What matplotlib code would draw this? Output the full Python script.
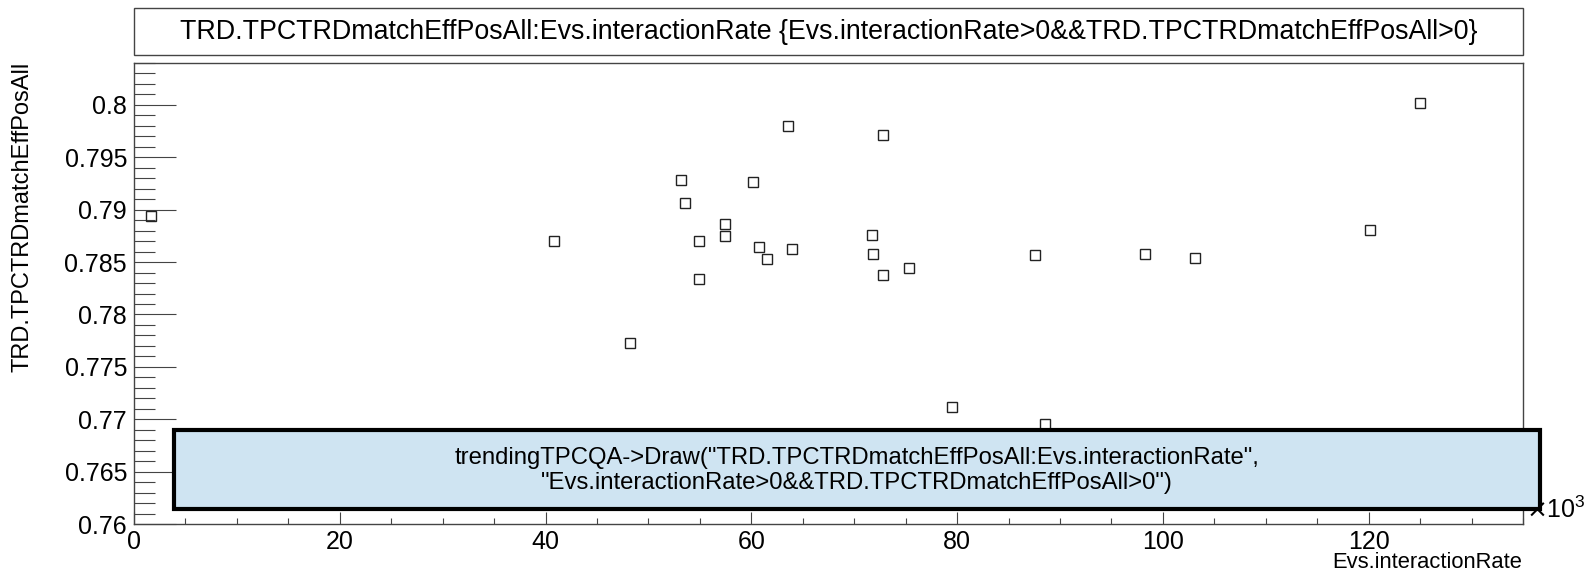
import matplotlib
matplotlib.use('Agg')
import matplotlib.pyplot as plt
from matplotlib.patches import Rectangle
from matplotlib.ticker import MultipleLocator

plt.rcParams['font.family'] = ['Liberation Sans', 'DejaVu Sans']

# interaction rate in units of 10^3
rate = [1.7, 40.85, 48.2, 53.2, 53.6, 54.9, 54.9, 57.4, 57.4, 60.2, 60.7, 61.5, 63.55,
        64.0, 71.75, 71.85, 72.8, 72.8, 75.3, 79.5, 87.55, 88.5, 98.25, 103.1, 120.1, 125.0]
match_eff = [0.78943, 0.78705, 0.77727, 0.79286, 0.79067, 0.78705, 0.78343, 0.78867,
             0.78752, 0.79264, 0.78648, 0.7853, 0.7980, 0.78622, 0.78762, 0.78578,
             0.79717, 0.78378, 0.78448, 0.77121, 0.78565, 0.76952, 0.78574, 0.7854,
             0.7881, 0.8002]

title = "TRD.TPCTRDmatchEffPosAll:Evs.interactionRate {Evs.interactionRate>0&&TRD.TPCTRDmatchEffPosAll>0}"
cmd_lines = ['trendingTPCQA->Draw("TRD.TPCTRDmatchEffPosAll:Evs.interactionRate",',
             '"Evs.interactionRate>0&&TRD.TPCTRDmatchEffPosAll>0")']

W, H = 1585, 573
fig = plt.figure(figsize=(W / 100, H / 100), dpi=100)


def fx(px):
    return px / W


def fy(py):
    return 1 - py / H


frame_col = '#444444'
ax = fig.add_axes([fx(134), fy(524), fx(1523) - fx(134), fy(63) - fy(524)])
ax.plot(rate, match_eff, 's', ms=7, mfc='none', mec='#222222', mew=1.0, zorder=3)

ax.set_xlim(0, 135)
ax.set_ylim(0.76, 0.804)
ax.xaxis.set_major_locator(MultipleLocator(20))
ax.xaxis.set_minor_locator(MultipleLocator(5))
ax.yaxis.set_minor_locator(MultipleLocator(0.001))
ax.set_yticks([0.76, 0.765, 0.77, 0.775, 0.78, 0.785, 0.79, 0.795, 0.8])
ax.set_yticklabels(['0.76', '0.765', '0.77', '0.775', '0.78', '0.785', '0.79', '0.795', '0.8'])

ax.tick_params(axis='both', which='both', direction='in', color=frame_col, width=0.8,
               labelsize=18, top=False, right=False)
ax.tick_params(axis='y', which='major', length=30, pad=5)
ax.tick_params(axis='y', which='minor', length=15)
ax.tick_params(axis='x', which='major', length=8.6, pad=4)
ax.tick_params(axis='x', which='minor', length=4.3)
for s in ax.spines.values():
    s.set_color(frame_col)
    s.set_linewidth(1.0)

# axis titles, ROOT style (aligned to the axis ends)
fig.text(fx(23), fy(62), 'TRD.TPCTRDmatchEffPosAll', rotation=90, ha='center', va='top',
         fontsize=17)
fig.text(fx(1522), fy(563), 'Evs.interactionRate', ha='right', va='center', fontsize=15.8)
fig.text(fx(1526), fy(510), r'$\times\mathregular{10^{3}}$', ha='left', va='center', fontsize=18)

# title box
fig.patches.append(Rectangle((fx(134), fy(55)), fx(1523) - fx(134), fy(8) - fy(55),
                             transform=fig.transFigure, fill=False, ec=frame_col, lw=1.0))
fig.text((fx(134) + fx(1523)) / 2, fy(32), title, ha='center', va='center', fontsize=19.3)

# command box
fig.patches.append(Rectangle((fx(174), fy(509)), fx(1540) - fx(174), fy(430) - fy(509),
                             transform=fig.transFigure, fc='#cfe4f2', ec='black', lw=3.0,
                             zorder=5))
fig.text((fx(174) + fx(1540)) / 2, fy(458), cmd_lines[0], ha='center', va='center',
         fontsize=17.2, zorder=6)
fig.text((fx(174) + fx(1540)) / 2, fy(483), cmd_lines[1], ha='center', va='center',
         fontsize=17.2, zorder=6)

fig.savefig('out.png', dpi=100)
